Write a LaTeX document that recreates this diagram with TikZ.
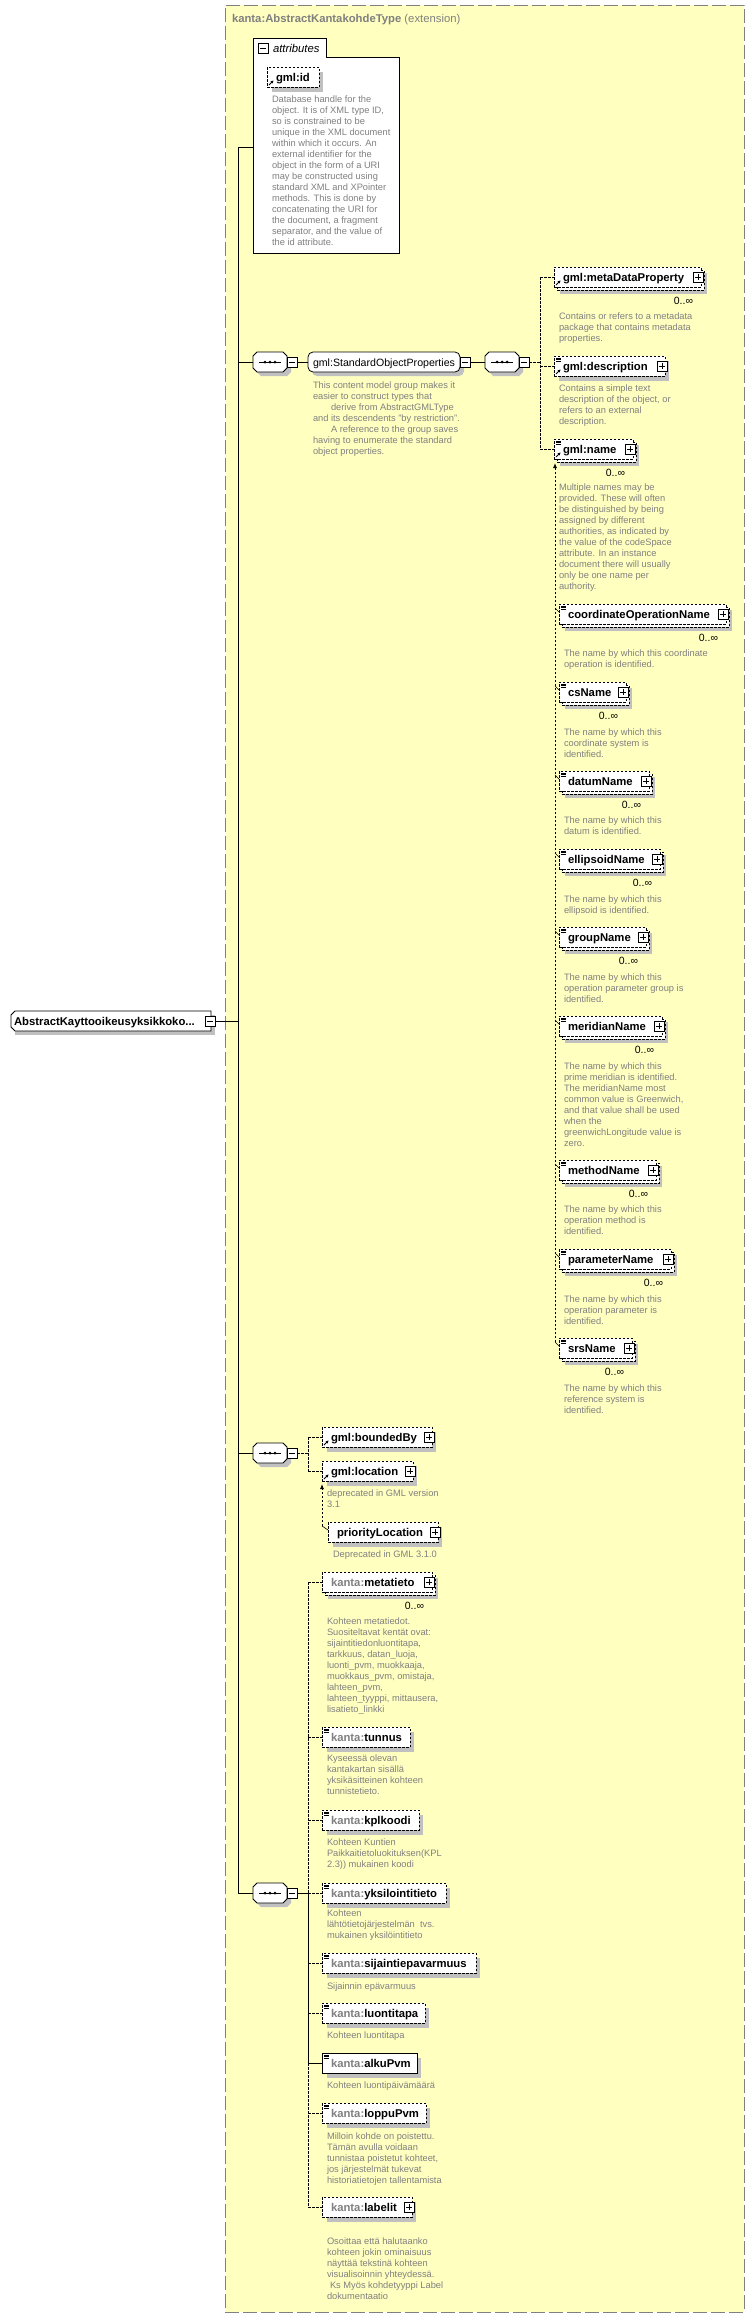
\documentclass[tikz,border=0pt]{standalone}
\usepackage{fontspec}
\setmainfont{Liberation Sans}
\usetikzlibrary{arrows.meta,calc}
\definecolor{bgyellow}{RGB}{255,255,192}
\definecolor{bordergray}{RGB}{128,128,128}
\definecolor{descgray}{RGB}{128,128,128}
\definecolor{shadowgray}{RGB}{192,192,192}
\definecolor{prefixgray}{RGB}{128,128,128}
\tikzset{
  every node/.style={inner sep=0pt, outer sep=0pt},
  ebox/.style={draw=black, fill=white, line width=0.8pt, anchor=north west, minimum height=20pt},
  optbox/.style={dash pattern=on 2.5pt off 1.5pt},
  namefont/.style={font=\fontsize{11.3}{13.5}\selectfont\bfseries},
  descfont/.style={font=\fontsize{9.3}{11}\selectfont, text=descgray, anchor=base west},
  conn/.style={line width=0.8pt, draw=black},
  optconn/.style={line width=0.8pt, draw=black, dash pattern=on 2.5pt off 1.5pt},
  icon/.style={draw=black, fill=white, line width=0.6pt, minimum width=10pt, minimum height=10pt},
  multfont/.style={font=\fontsize{10.5}{12}\selectfont, anchor=base east},
}
\newcommand\kp{\textcolor{prefixgray}{kanta:}}
\newcommand\D[1]{\begin{tabular}[t]{@{}l@{}}#1\end{tabular}}
\newcommand\EBox[6][]{%
  \fill[shadowgray] (#3+5,#4+5) rectangle (#5+4,#4+25);
  \node[ebox,#1,minimum width={#5-#3}] (#2) at (#3,#4) {};
  \node[namefont,anchor=base west] (#2-t) at ([shift={(9,14)}]#2.north west) {#6};
}
\newcommand\EBoxU[6][]{%
  \fill[shadowgray] (#3+6,#4+6) rectangle (#5+6,#4+27);
  \draw[line width=0.8pt, fill=white, optbox] (#3+3,#4+3) rectangle (#5+3,#4+23);
  \node[ebox,#1,minimum width={#5-#3}] (#2) at (#3,#4) {};
  \node[namefont,anchor=base west] (#2-t) at ([shift={(9,14)}]#2.north west) {#6};
  \node[multfont] (#2-n) at ([shift={(-8,37)}]#2.north east) {0..∞};
}
\newcommand\PlusIcon[1]{%
  \node[icon] (#1-p) at ([xshift=-3pt]#1.east) {};
  \draw[line width=0.6pt] ([xshift=2pt]#1-p.west) -- ([xshift=-2pt]#1-p.east);
  \draw[line width=0.6pt] ([yshift=-2pt]#1-p.north) -- ([yshift=2pt]#1-p.south);
}
\newcommand\MinusIcon[2]{%
  \node[icon] (#1) at #2 {};
  \draw[line width=0.6pt] ([xshift=2pt]#1.west) -- ([xshift=-2pt]#1.east);
}
\newcommand\SimpleIcon[1]{%
  \foreach \k in {2,3.6,5.2} \draw[line width=0.5pt] ([shift={(2,\k)}]#1.north west) -- ++(5,0);
}
\newcommand\RefIcon[1]{%
  \draw[line width=0.9pt, -{Stealth[length=3pt,width=3pt]}] ([shift={(2,-2)}]#1.south west) -- ++(4.5,-4.5);
}
\newcommand\SeqBox[3]{%
  \fill[shadowgray, shift={(4,4)}] (#2-17,#3-6) -- (#2-13,#3-10) -- (#2+13,#3-10) -- (#2+17,#3-6) -- (#2+17,#3+6) -- (#2+13,#3+10) -- (#2-13,#3+10) -- (#2-17,#3+6) -- cycle;
  \draw[line width=0.8pt, fill=white] (#2-17,#3-6) -- (#2-13,#3-10) -- (#2+13,#3-10) -- (#2+17,#3-6) -- (#2+17,#3+6) -- (#2+13,#3+10) -- (#2-13,#3+10) -- (#2-17,#3+6) -- cycle;
  \node[minimum width=34pt, minimum height=20pt] (#1) at (#2,#3) {};
  \draw[line width=0.9pt] (#2-11,#3) -- (#2+11,#3);
  \foreach \d in {-5,0,5} \fill ({#2+(\d)},#3) circle (1.5pt);
  \MinusIcon{#1-m}{(#2+22,#3)}
}
\begin{document}
\begin{tikzpicture}[x=1pt,y=-1pt]
\useasboundingbox (0,0) rectangle (755,2318);
\node[draw=bordergray, fill=bgyellow, line width=1pt, dash pattern=on 14pt off 4pt, anchor=north west, minimum width=519pt, minimum height=2307pt] (container) at (225,5) {};
\node[font=\fontsize{11.3}{13}\selectfont, text=prefixgray, anchor=base west] (title) at (232,23) {\textbf{kanta:AbstractKantakohdeType} (extension)};

% attributes
\draw[line width=0.8pt, fill=white] (253,38) -- (326,38) -- (326,57) -- (399,57) -- (399,253) -- (253,253) -- cycle;
\node[minimum width=146pt, minimum height=196pt, anchor=north west] (attrs) at (253,57) {};
\node[minimum width=73pt, minimum height=19pt, anchor=north west] (attrtab) at (253,38) {};
\MinusIcon{attr-m}{(263,48)}
\node[font=\fontsize{11.3}{13}\selectfont\itshape, anchor=base west] (attr-t) at (273,52) {attributes};
\EBox[optbox]{gid}{267}{67}{319}{gml:id}
\RefIcon{gid}
\node[descfont] (gid-d) at (272,102) {\D{Database handle for the\\object.  It is of XML type ID,\\so is constrained to be\\unique in the XML document\\within which it occurs.  An\\external identifier for the\\object in the form of a URI\\may be constructed using\\standard XML and XPointer\\methods.  This is done by\\concatenating the URI for\\the document, a fragment\\separator, and the value of\\the id attribute.}};

% root
\fill[shadowgray] (15,1015) rectangle (215,1035);
\draw[line width=0.8pt, fill=white] (15,1011) -- (211,1011) -- (211,1031) -- (15,1031) -- (11,1027) -- (11,1015) -- cycle;
\node[minimum width=200pt, minimum height=20pt] (root) at (111,1021) {};
\node[namefont, anchor=base west] (root-t) at (14,1025) {AbstractKayttooikeusyksikkoko...};
\MinusIcon{root-m}{(210,1021)}

% main line
\coordinate (a0) at (238,147);
\coordinate (s3c) at (238,1893);
\draw[conn] (a0) -- (s3c);
\draw[conn] (a0) -- (a0 -| attrs.west);
\draw[conn] (root-m.east) -- (root-m.east -| a0);

% sequence 1
\SeqBox{seq1}{270}{362}
\draw[conn] (seq1.west -| a0) -- (seq1.west);
\fill[shadowgray, rounded corners=5pt] (312,356) rectangle (464,376);
\node[draw, fill=white, line width=0.8pt, rounded corners=5pt, minimum width=152pt, minimum height=20pt, anchor=north west] (sop) at (308,352) {};
\node[font=\fontsize{10.6}{13}\selectfont, anchor=base west] (sop-t) at (313,366) {gml:StandardObjectProperties};
\MinusIcon{sop-m}{(465,362)}
\node[descfont] (sop-d) at (313,388) {\D{This content model group makes it\\easier to construct types that\\\hspace*{18pt}derive from AbstractGMLType\\and its descendents "by restriction".\\\hspace*{18pt}A reference to the group saves\\having to enumerate the standard\\object properties.}};
\SeqBox{seq1b}{502}{362}
\draw[conn] (seq1-m.east) -- (sop.west);
\draw[conn] (sop-m.east) -- (seq1b.west);

\EBoxU[optbox]{meta}{554}{267}{701}{gml:metaDataProperty}
\PlusIcon{meta}\RefIcon{meta}
\node[descfont] (meta-d) at (559,319) {\D{Contains or refers to a metadata\\package that contains metadata\\properties.}};
\EBox[optbox]{desc}{554}{356}{665}{gml:description}
\PlusIcon{desc}\SimpleIcon{desc}\RefIcon{desc}
\node[descfont] (desc-d) at (559,391) {\D{Contains a simple text\\description of the object, or\\refers to an external\\description.}};
\EBoxU[optbox]{name}{554}{439}{633}{gml:name}
\PlusIcon{name}\SimpleIcon{name}\RefIcon{name}
\node[descfont] (name-d) at (559,490) {\D{Multiple names may be\\provided.  These will often\\be distinguished by being\\assigned by different\\authorities, as indicated by\\the value of the codeSpace\\attribute.  In an instance\\document there will usually\\only be one name per\\authority.}};

\coordinate (j1) at (540,362);
\draw[optconn] (seq1b-m.east) -- (j1);
\draw[optconn] (meta.west -| j1) -- (name.west -| j1);
\draw[optconn] (meta.west -| j1) -- (meta.west);
\draw[optconn] (desc.west -| j1) -- (desc.west);
\draw[optconn] (name.west -| j1) -- (name.west);

% substitution group of gml:name
\EBoxU[optbox]{co}{559}{604}{726}{coordinateOperationName}
\EBoxU[optbox]{cs}{559}{682}{626}{csName}
\EBoxU[optbox]{dn}{559}{771}{649}{datumName}
\EBoxU[optbox]{el}{559}{849}{660}{ellipsoidName}
\EBoxU[optbox]{gn}{559}{927}{646}{groupName}
\EBoxU[optbox]{mn}{559}{1016}{662}{meridianName}
\EBoxU[optbox]{me}{559}{1160}{656}{methodName}
\EBoxU[optbox]{pn}{559}{1249}{671}{parameterName}
\EBoxU[optbox]{sr}{559}{1338}{632}{srsName}
\foreach \e in {co,cs,dn,el,gn,mn,me,pn,sr} {\PlusIcon{\e}\SimpleIcon{\e}
  \draw[line width=0.6pt] ([shift={(-4,4)}]\e.north west) -- ([shift={(0,8)}]\e.north west);}
\coordinate (subtop) at ([shift={(1,4)}]name.south west);
\coordinate (subbot) at ([shift={(-4,4)}]sr.north west);
\draw[optconn, -{Latex[length=5pt,width=4pt]}] (subbot) -- (subtop);
\node[descfont] (co-d) at (564,656) {\D{The name by which this coordinate\\operation is identified.}};
\node[descfont] (cs-d) at (564,735) {\D{The name by which this\\coordinate system is\\identified.}};
\node[descfont] (dn-d) at (564,823) {\D{The name by which this\\datum is identified.}};
\node[descfont] (el-d) at (564,902) {\D{The name by which this\\ellipsoid is identified.}};
\node[descfont] (gn-d) at (564,980) {\D{The name by which this\\operation parameter group is\\identified.}};
\node[descfont] (mn-d) at (564,1069) {\D{The name by which this\\prime meridian is identified.\\The meridianName most\\common value is Greenwich,\\and that value shall be used\\when the\\greenwichLongitude value is\\zero.}};
\node[descfont] (me-d) at (564,1212) {\D{The name by which this\\operation method is\\identified.}};
\node[descfont] (pn-d) at (564,1302) {\D{The name by which this\\operation parameter is\\identified.}};
\node[descfont] (sr-d) at (564,1391) {\D{The name by which this\\reference system is\\identified.}};

% sequence 2
\SeqBox{seq2}{270}{1453}
\draw[conn] (seq2.west -| a0) -- (seq2.west);
\EBox[optbox]{bb}{322}{1427}{432}{gml:boundedBy}
\PlusIcon{bb}\RefIcon{bb}
\EBox[optbox]{loc}{322}{1461}{413}{gml:location}
\PlusIcon{loc}\RefIcon{loc}
\node[descfont] (loc-d) at (327,1496) {\D{deprecated in GML version\\3.1}};
\EBox[optbox]{ploc}{328}{1522}{438}{priorityLocation}
\PlusIcon{ploc}
\node[descfont] (ploc-d) at (333,1557) {Deprecated in GML 3.1.0};
\coordinate (j2) at (308,1453);
\draw[optconn] (seq2-m.east) -- (j2);
\draw[optconn] (bb.west -| j2) -- (loc.west -| j2);
\draw[optconn] (bb.west -| j2) -- (bb.west);
\draw[optconn] (loc.west -| j2) -- (loc.west);
\coordinate (plt) at ([shift={(-6,4)}]ploc.north west);
\draw[optconn, -{Latex[length=5pt,width=4pt]}] (plt) -- ([shift={(0,3)}]loc.south west);
\draw[line width=0.6pt] (plt) -- ([shift={(0,8)}]ploc.north west);

% sequence 3
\SeqBox{seq3}{270}{1893}
\draw[conn] (s3c) -- (seq3.west);
\EBoxU[optbox]{mt}{322}{1572}{432}{\kp metatieto}
\PlusIcon{mt}
\node[descfont] (mt-d) at (327,1624) {\D{Kohteen metatiedot.\\Suositeltavat kentät ovat:\\sijaintitiedonluontitapa,\\tarkkuus, datan\_luoja,\\luonti\_pvm, muokkaaja,\\muokkaus\_pvm, omistaja,\\lahteen\_pvm,\\lahteen\_tyyppi, mittausera,\\lisatieto\_linkki}};
\EBox[optbox]{tu}{322}{1727}{410}{\kp tunnus}
\SimpleIcon{tu}
\node[descfont] (tu-d) at (327,1761) {\D{Kyseessä olevan\\kantakartan sisällä\\yksikäsitteinen kohteen\\tunnistetieto.}};
\EBox[optbox]{kpl}{322}{1810}{419}{\kp kplkoodi}
\SimpleIcon{kpl}
\node[descfont] (kpl-d) at (327,1845) {\D{Kohteen Kuntien\\Paikkaitietoluokituksen(KPL\\2.3)) mukainen koodi}};
\EBox[optbox]{yk}{322}{1883}{446}{\kp yksilointitieto}
\SimpleIcon{yk}
\node[descfont] (yk-d) at (327,1916) {\D{Kohteen\\lähtötietojärjestelmän\ \ tvs.\\mukainen yksilöintitieto}};
\EBox[optbox]{si}{322}{1953}{476}{\kp sijaintiepavarmuus}
\SimpleIcon{si}
\node[descfont] (si-d) at (327,1989) {Sijainnin epävarmuus};
\EBox[optbox]{lu}{322}{2003}{425}{\kp luontitapa}
\SimpleIcon{lu}
\node[descfont] (lu-d) at (327,2038) {Kohteen luontitapa};
\EBox{al}{322}{2053}{417}{\kp alkuPvm}
\SimpleIcon{al}
\node[descfont] (al-d) at (327,2088) {Kohteen luontipäivämäärä};
\EBox[optbox]{lo}{322}{2103}{426}{\kp loppuPvm}
\SimpleIcon{lo}
\node[descfont] (lo-d) at (327,2139) {\D{Milloin kohde on poistettu.\\Tämän avulla voidaan\\tunnistaa poistetut kohteet,\\jos järjestelmät tukevat\\historiatietojen tallentamista}};
\EBox[optbox]{lab}{322}{2197}{412}{\kp labelit}
\PlusIcon{lab}
\node[descfont] (lab-d) at (327,2244) {\D{Osoittaa että halutaanko\\kohteen jokin ominaisuus\\näyttää tekstinä kohteen\\visualisoinnin yhteydessä.\\\hspace*{3pt}Ks Myös kohdetyyppi Label\\dokumentaatio}};

\coordinate (j3) at (308,1893);
\draw[conn] (seq3-m.east) -- (j3);
\draw[optconn] (mt.west -| j3) -- (j3);
\draw[conn] (j3) -- (al.west -| j3);
\draw[optconn] (al.west -| j3) -- (lab.west -| j3);
\foreach \e in {mt,tu,kpl,yk,si,lu,lo,lab} \draw[optconn] (\e.west -| j3) -- (\e.west);
\draw[conn] (al.west -| j3) -- (al.west);
\end{tikzpicture}
\end{document}
